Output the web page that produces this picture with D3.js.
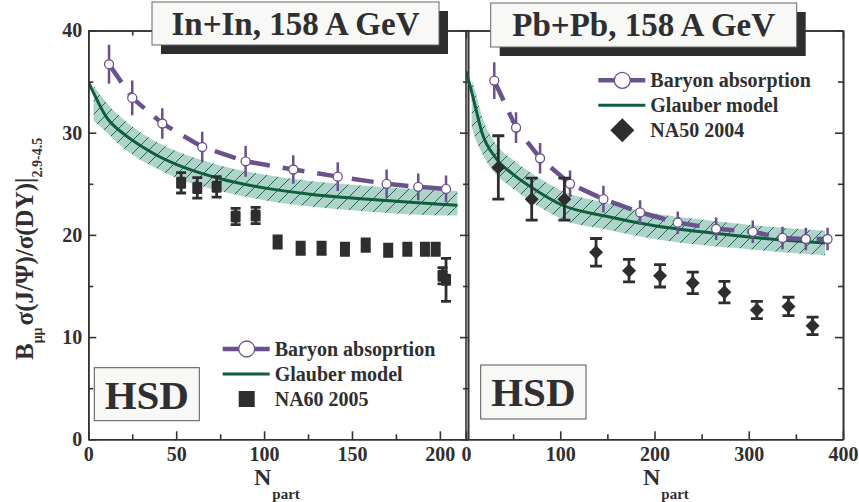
<!DOCTYPE html>
<html>
<head>
<meta charset="utf-8">
<script src="https://cdn.jsdelivr.net/npm/d3@7"></script>
<style>
  body { margin: 0; background: #fff; }
  svg text { font-family: "Liberation Serif", "Times New Roman", serif; font-weight: bold; fill: #2f2f31; }
</style>
</head>
<body>
<div id="chart"></div>
<script>
const width = 859;
const height = 502;

// ---- In+In panel data ----
const inBaryonX = [11.8, 25.0, 42.1, 64.8, 89.5, 116.6, 141.9, 169.7, 187.7, 203.5];
const inBaryonY = [36.7, 33.4, 30.9, 28.6, 27.2, 26.4, 25.7, 25.0, 24.7, 24.5];
const inBaryonErr = [1.9, 1.7, 1.5, 1.5, 1.5, 1.4, 1.4, 1.4, 1.3, 1.3];

const inGlauberX = [0, 3, 10, 20, 30, 40, 50, 75, 100, 125, 150, 175, 200, 210];
const inGlauberY = [35.0, 33.9, 31.6, 29.9, 28.7, 27.7, 26.9, 25.5, 24.6, 24.0, 23.6, 23.3, 23.0, 22.9];
const inBandX = [3, 10, 20, 30, 40, 50, 75, 100, 125, 150, 175, 200, 210];
const inBandHi = [34.6, 33.0, 31.3, 30.0, 29.0, 28.2, 26.8, 25.9, 25.3, 24.9, 24.6, 24.4, 24.3];
const inBandLo = [31.2, 30.1, 28.5, 27.3, 26.4, 25.6, 24.3, 23.4, 22.8, 22.4, 22.1, 21.9, 21.9];

const na60X = [52.8, 62.0, 73.0, 83.8, 95.2, 107.7, 120.8, 132.7, 146.0, 157.8, 170.6, 181.5, 191.5, 197.6, 201.5, 203.5];
const na60Y = [25.1, 24.6, 24.7, 21.8, 21.9, 19.3, 18.7, 18.7, 18.6, 19.0, 18.5, 18.6, 18.6, 18.6, 16.0, 15.6];
const na60Err = [1.0, 1.0, 1.0, 0.8, 0.8, 0.6, 0.6, 0.6, 0.6, 0.6, 0.6, 0.6, 0.6, 0.6, 0.8, 2.1];

// ---- Pb+Pb panel data ----
const pbBaryonX = [30.0, 53.1, 78.6, 110.4, 145.8, 184.7, 224.7, 265.4, 304.3, 335.8, 360.6, 383.6];
const pbBaryonY = [35.1, 30.5, 27.5, 25.0, 23.5, 22.2, 21.2, 20.6, 20.3, 19.7, 19.6, 19.6];
const pbBaryonErr = [1.8, 1.5, 1.5, 1.3, 1.3, 1.2, 1.1, 1.1, 1.1, 1.1, 1.1, 1.1];

const pbGlauberX = [0, 6, 10, 17, 31, 49, 67, 84, 100, 150, 200, 250, 300, 350, 381];
const pbGlauberY = [36.0, 34.0, 32.5, 30.0, 27.6, 26.0, 24.8, 23.8, 23.0, 21.8, 20.9, 20.3, 19.8, 19.4, 19.2];
const pbBandX = [6, 10, 17, 31, 49, 67, 84, 100, 150, 200, 250, 300, 350, 381];
const pbBandHi = [35.2, 34.0, 31.6, 29.0, 27.4, 26.2, 25.2, 24.4, 23.1, 22.1, 21.5, 21.0, 20.6, 20.4];
const pbBandLo = [30.6, 29.4, 28.0, 26.0, 24.6, 23.4, 22.4, 21.6, 20.5, 19.6, 19.0, 18.6, 18.2, 18.0];

const na50X = [34.3, 69.7, 104.4, 138.0, 173.0, 205.9, 240.6, 274.2, 308.6, 342.2, 367.7];
const na50Y = [26.6, 23.5, 23.5, 18.3, 16.5, 16.0, 15.3, 14.4, 12.65, 13.0, 11.1];
const na50Err = [3.1, 2.05, 2.05, 1.35, 1.1, 1.1, 1.05, 1.05, 0.85, 0.9, 0.85];

// ---- axes ----
const yTicks = [0, 10, 20, 30, 40];
const inXTicks = [0, 50, 100, 150, 200];
const pbXTicks = [0, 100, 200, 300, 400];

const purple = "#6c5190";
const green = "#0f5e3c";
const bandFill = "#aed3cb";
const dark = "#2e2e30";

const svg = d3.select("#chart").append("svg")
  .attr("width", width)
  .attr("height", height);

const defs = svg.append("defs");
const hatch = defs.append("pattern")
  .attr("id", "hatch")
  .attr("patternUnits", "userSpaceOnUse")
  .attr("width", 13)
  .attr("height", 13);
hatch.append("rect").attr("width", 13).attr("height", 13).attr("fill", bandFill);
hatch.append("path")
  .attr("d", "M0,13 L13,0 M-3,3 L3,-3 M10,16 L16,10")
  .attr("stroke", "#1d6a49")
  .attr("stroke-width", 1);

const yScale = d3.scaleLinear().domain([0, 40]).range([439.3, 30.5]);

const panels = [
  {
    id: "in",
    x: d3.scaleLinear().domain([0, 216]).range([88.3, 468]),
    xTicks: inXTicks, xMinor: d3.range(25, 216, 50),
    baryon: inBaryonX.map((d, i) => ({ x: d, y: inBaryonY[i], e: inBaryonErr[i] })),
    glauber: inGlauberX.map((d, i) => ({ x: d, y: inGlauberY[i] })),
    band: inBandX.map((d, i) => ({ x: d, hi: inBandHi[i], lo: inBandLo[i] })),
    data: na60X.map((d, i) => ({ x: d, y: na60Y[i], e: na60Err[i] })),
    marker: "square",
    leftLabels: true,
    title: "In+In, 158 A GeV", titleBox: [152, 2, 287, 43],
    hsd: [94.3, 367.7, 105, 53],
    legend: { x: 222.7, y: 349, items: ["Baryon absoprtion", "Glauber model", "NA60 2005"] },
    nLabel: 254,
  },
  {
    id: "pb",
    x: d3.scaleLinear().domain([0, 400]).range([466, 843]),
    xTicks: pbXTicks, xMinor: d3.range(50, 400, 100),
    baryon: pbBaryonX.map((d, i) => ({ x: d, y: pbBaryonY[i], e: pbBaryonErr[i] })),
    glauber: pbGlauberX.map((d, i) => ({ x: d, y: pbGlauberY[i] })),
    band: pbBandX.map((d, i) => ({ x: d, hi: pbBandHi[i], lo: pbBandLo[i] })),
    data: na50X.map((d, i) => ({ x: d, y: na50Y[i], e: na50Err[i] })),
    marker: "diamond",
    leftLabels: false,
    title: "Pb+Pb, 158 A GeV", titleBox: [490.7, 3, 306, 44],
    hsd: [480.7, 365, 105.3, 54],
    legend: { x: 598.3, y: 80.3, items: ["Baryon absorption", "Glauber model", "NA50 2004"] },
    nLabel: 643,
  },
];

panels.forEach((p) => {
  const x = p.x;
  const [x0, x1] = x.range();
  const [yb, yt] = yScale.range();

  defs.append("clipPath").attr("id", "clip-" + p.id)
    .append("rect").attr("x", x0).attr("y", yt).attr("width", x1 - x0).attr("height", yb - yt);

  const g = svg.append("g").attr("clip-path", `url(#clip-${p.id})`);

  // Glauber band
  g.append("path")
    .datum(p.band)
    .attr("fill", "url(#hatch)")
    .attr("d", d3.area().curve(d3.curveMonotoneX)
      .x((d) => x(d.x)).y0((d) => yScale(d.lo)).y1((d) => yScale(d.hi)));

  g.append("path")
    .datum(p.glauber)
    .attr("fill", "none")
    .attr("stroke", green)
    .attr("stroke-width", 3)
    .attr("d", d3.line().curve(d3.curveMonotoneX).x((d) => x(d.x)).y((d) => yScale(d.y)));

  // baryon absorption
  g.append("path")
    .datum(p.baryon)
    .attr("fill", "none")
    .attr("stroke", purple)
    .attr("stroke-width", 4.5)
    .attr("stroke-dasharray", "22,13")
    .attr("d", d3.line().x((d) => x(d.x)).y((d) => yScale(d.y)));

  g.selectAll(".berr")
    .data(p.baryon)
    .join("line")
    .attr("stroke", purple)
    .attr("stroke-width", 2.5)
    .attr("x1", (d) => x(d.x)).attr("x2", (d) => x(d.x))
    .attr("y1", (d) => yScale(d.y + d.e)).attr("y2", (d) => yScale(d.y - d.e));

  g.selectAll(".bcirc")
    .data(p.baryon)
    .join("circle")
    .attr("cx", (d) => x(d.x)).attr("cy", (d) => yScale(d.y))
    .attr("r", 4.5)
    .attr("fill", "#fff")
    .attr("stroke", purple)
    .attr("stroke-width", 1.3);

  // experimental data
  const capW = p.marker === "square" ? 5 : 6;
  const eg = g.selectAll(".pt").data(p.data).join("g").attr("fill", dark).attr("stroke", dark);
  eg.append("path")
    .attr("stroke-width", 2.8)
    .attr("fill", "none")
    .attr("d", (d) => {
      const cx = x(d.x), t = yScale(d.y + d.e), b = yScale(d.y - d.e);
      return `M${cx},${t}V${b}M${cx - capW},${t}H${cx + capW}M${cx - capW},${b}H${cx + capW}`;
    });
  if (p.marker === "square") {
    eg.append("rect")
      .attr("stroke", "none")
      .attr("x", (d) => x(d.x) - 5).attr("y", (d) => yScale(d.y) - 6)
      .attr("width", 10).attr("height", 12).attr("rx", 1.5);
  } else {
    eg.append("path")
      .attr("stroke", "none")
      .attr("d", (d) => {
        const cx = x(d.x), cy = yScale(d.y), s = 7;
        return `M${cx},${cy - s}L${cx + s},${cy}L${cx},${cy + s}L${cx - s},${cy}Z`;
      });
  }

  // frame and ticks
  const frame = svg.append("g").attr("class", "frame");
  const styleAxis = (sel) => {
    sel.selectAll("path, line").attr("stroke", "#333").attr("stroke-width", 1.6);
    sel.selectAll("text").attr("font-size", 20).attr("fill", "#2f2f31")
      .attr("font-family", '"Liberation Serif", serif').attr("font-weight", "bold");
  };
  const yMinor = [5, 15, 25, 35];

  frame.append("g").attr("transform", `translate(0,${yb})`)
    .call(d3.axisBottom(x).tickValues(p.xTicks).tickSize(-8).tickSizeOuter(0).tickPadding(7.5).tickFormat(d3.format("d")))
    .call(styleAxis);
  frame.append("g").attr("transform", `translate(0,${yb})`)
    .call(d3.axisBottom(x).tickValues(p.xMinor).tickSize(-5).tickSizeOuter(0).tickFormat(""))
    .call(styleAxis);
  frame.append("g").attr("transform", `translate(0,${yt})`)
    .call(d3.axisTop(x).tickValues(p.xTicks).tickSize(-8).tickSizeOuter(0).tickFormat(""))
    .call(styleAxis);
  frame.append("g").attr("transform", `translate(0,${yt})`)
    .call(d3.axisTop(x).tickValues(p.xMinor).tickSize(-5).tickSizeOuter(0).tickFormat(""))
    .call(styleAxis);
  frame.append("g").attr("transform", `translate(${x1},0)`)
    .call(d3.axisRight(yScale).tickValues(yTicks).tickSize(-8).tickSizeOuter(0).tickFormat(""))
    .call(styleAxis);
  frame.append("g").attr("transform", `translate(${x1},0)`)
    .call(d3.axisRight(yScale).tickValues(yMinor).tickSize(-5).tickSizeOuter(0).tickFormat(""))
    .call(styleAxis);
  if (p.leftLabels) {
    frame.append("g").attr("transform", `translate(${x0},0)`)
      .call(d3.axisLeft(yScale).tickValues(yTicks).tickSize(-8).tickSizeOuter(0).tickPadding(6))
      .call(styleAxis);
    frame.append("g").attr("transform", `translate(${x0},0)`)
      .call(d3.axisLeft(yScale).tickValues(yMinor).tickSize(-5).tickSizeOuter(0).tickFormat(""))
      .call(styleAxis);
  } else {
    frame.append("line").attr("x1", x0).attr("x2", x0).attr("y1", yt).attr("y2", yb)
      .attr("stroke", "#333").attr("stroke-width", 1.6);
  }

  // x label
  const nl = svg.append("text").attr("x", p.nLabel).attr("y", 485).attr("font-size", 24);
  nl.append("tspan").text("N");
  nl.append("tspan").attr("font-size", 15).attr("dy", 14).attr("dx", 1).text("part");

  // title box with shadow
  const [tx, ty, tw, th] = p.titleBox;
  svg.append("rect").attr("x", tx + 9).attr("y", ty + 9).attr("width", tw).attr("height", th).attr("fill", dark);
  svg.append("rect").attr("x", tx).attr("y", ty).attr("width", tw).attr("height", th)
    .attr("fill", "#f8f8f6").attr("stroke", "#666").attr("stroke-width", 1);
  svg.append("text").attr("x", tx + tw / 2).attr("y", ty + 33).attr("text-anchor", "middle")
    .attr("font-size", 33).text(p.title);

  // HSD box
  const [hx, hy, hw, hh] = p.hsd;
  svg.append("rect").attr("x", hx).attr("y", hy).attr("width", hw).attr("height", hh)
    .attr("fill", "#f8f8f6").attr("stroke", "#555").attr("stroke-width", 1);
  svg.append("text").attr("x", hx + hw / 2).attr("y", hy + 41).attr("text-anchor", "middle")
    .attr("font-size", 41).text("HSD");

  // legend
  const lg = svg.append("g").attr("transform", `translate(${p.legend.x},${p.legend.y})`);
  const rowH = 25;
  lg.append("line").attr("x1", 0).attr("x2", 47).attr("stroke", purple).attr("stroke-width", 4.5);
  lg.append("circle").attr("cx", 24).attr("r", 8).attr("fill", "#fff").attr("stroke", purple).attr("stroke-width", 1.3);
  lg.append("line").attr("x1", 0).attr("x2", 47).attr("y1", rowH).attr("y2", rowH).attr("stroke", green).attr("stroke-width", 3);
  if (p.marker === "square") {
    lg.append("rect").attr("x", 16).attr("y", 2 * rowH - 8).attr("width", 16).attr("height", 16).attr("fill", dark);
  } else {
    lg.append("path").attr("d", `M24,${2 * rowH - 12}L36,${2 * rowH}L24,${2 * rowH + 12}L12,${2 * rowH}Z`).attr("fill", dark);
  }
  lg.selectAll(".lt").data(p.legend.items).join("text")
    .attr("x", 52).attr("y", (d, i) => i * rowH + 7)
    .attr("font-size", 20)
    .text((d) => d);
});

// y axis label
const yl = svg.append("text")
  .attr("transform", "translate(33,360) rotate(-90)")
  .attr("font-size", 25);
yl.append("tspan").text("B");
yl.append("tspan").attr("font-size", 14).attr("dy", 9).text("μμ");
yl.append("tspan").attr("dy", -9).attr("dx", 2).text("σ(J/Ψ)/σ(DY)|");
yl.append("tspan").attr("font-size", 14).attr("dy", 9).text("2.9-4.5");
</script>
</body>
</html>
